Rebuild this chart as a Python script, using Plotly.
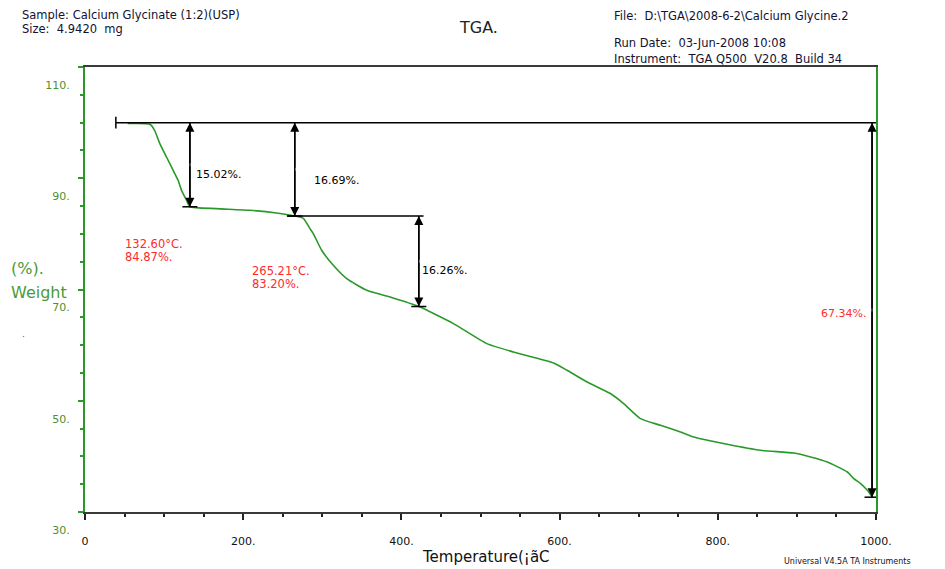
import plotly.graph_objects as go

# ---- data ----
temps = [54, 82, 88, 94.6, 103, 113.5, 117.7, 122, 128.4, 132.6, 166, 208.5, 242, 265.2,
         276, 284.4, 288.6, 299.2, 313.9, 330.9, 356.2, 385.7, 422, 465.8, 508, 541.8,
         592.4, 609.4, 634.7, 664.2, 681, 702.2, 727.5, 752.8, 769.6, 811.9, 854, 896.2,
         917.3, 938.5, 963.8, 972, 980.6, 989, 995.4]
weights = [99.83, 99.7, 98.62, 96.23, 93.82, 90.84, 89.63, 87.83, 86.03, 84.87, 84.54,
           84.24, 83.75, 83.2, 82.8, 80.95, 80.05, 77.05, 74.35, 71.96, 69.86, 68.65,
           66.94, 63.87, 60.27, 58.76, 56.8, 55.47, 53.37, 51.3, 49.49, 46.79, 45.59,
           44.38, 43.48, 42.17, 41.09, 40.6, 39.89, 38.99, 37.19, 36.0, 35.1, 33.9, 32.66]

initial_weight = 100.0
ref_line_start = 39
ref_line_end = 1003
# step arrows: x position, top weight, bottom weight
arrow_x = [132.6, 265.21, 422, 995]
arrow_top = [100.0, 100.0, 83.20, 100.0]
arrow_bottom = [84.87, 83.20, 66.94, 32.66]
loss_labels = ["15.02%.", "16.69%.", "16.26%.", "67.34%."]
onset_labels = [("132.60°C.", "84.87%."), ("265.21°C.", "83.20%.")]

x_ticks = [0, 200, 400, 600, 800, 1000]
x_ticktext = ["0", "200.", "400.", "600.", "800.", "1000."]
y_ticks = [30, 50, 70, 90, 110]
y_ticktext = ["30.", "50.", "70.", "90.", "110."]

GREEN = "#2a992a"
FONT = "DejaVu Sans, Verdana, sans-serif"
RED = "#ff2a2a"

fig = go.Figure()

# TGA curve
fig.add_trace(go.Scatter(x=temps, y=weights, mode="lines",
                         line=dict(color=GREEN, width=1.6, shape="spline", smoothing=0.5),
                         hoverinfo="skip"))

# reference horizontal line at initial weight
fig.add_trace(go.Scatter(x=[ref_line_start, ref_line_end], y=[initial_weight, initial_weight],
                         mode="lines", line=dict(color="black", width=1.5), hoverinfo="skip"))
# left end cap
fig.add_trace(go.Scatter(x=[ref_line_start, ref_line_start], y=[initial_weight - 1.05, initial_weight + 1.05],
                         mode="lines", line=dict(color="black", width=1.5), hoverinfo="skip"))
# horizontal line at second step level
fig.add_trace(go.Scatter(x=[arrow_x[1] - 10, arrow_x[2] + 6], y=[arrow_bottom[1], arrow_bottom[1]],
                         mode="lines", line=dict(color="black", width=1.5), hoverinfo="skip"))

# vertical arrows and bottom caps
for xa, yt, yb in zip(arrow_x, arrow_top, arrow_bottom):
    fig.add_trace(go.Scatter(x=[xa, xa], y=[yt, yb], mode="lines",
                             line=dict(color="black", width=1.5), hoverinfo="skip"))
    fig.add_trace(go.Scatter(x=[xa - 9.5, xa + 9.5], y=[yb, yb], mode="lines",
                             line=dict(color="black", width=1.5), hoverinfo="skip"))
    for tip in (yb, yt):
        fig.add_annotation(x=xa, y=tip, ax=xa, ay=(yt + yb) / 2, xref="x", yref="y",
                           axref="x", ayref="y", text="", showarrow=True, arrowhead=2,
                           arrowsize=1.2, arrowwidth=1.5, arrowcolor="black")

L, R, T, B = 85, 876, 67, 512
W, H = 945, 569


def px(xp, yp):
    return (xp - L) / (R - L), (B - yp) / (B - T)


def add_text(xp, yp, text, size=11, color="black", xanchor="left", family=FONT):
    x, y = px(xp, yp)
    fig.add_annotation(x=x, y=y, xref="paper", yref="paper", text=text, showarrow=False,
                       xanchor=xanchor, yanchor="middle",
                       font=dict(family=family, size=size, color=color))


# loss labels
add_text(194, 174, loss_labels[0], 11)
add_text(312, 180, loss_labels[1], 11)
add_text(420, 270, loss_labels[2], 11)
add_text(868, 313, loss_labels[3], 11, color=RED, xanchor="right")

# onset labels
add_text(123, 244, onset_labels[0][0], 11.5, color=RED)
add_text(123, 257, onset_labels[0][1], 11.5, color=RED)
add_text(250, 271, onset_labels[1][0], 11.5, color=RED)
add_text(250, 284, onset_labels[1][1], 11.5, color=RED)

# header texts
add_text(20, 15, "Sample: Calcium Glycinate (1:2)(USP)", 11.5, color="#111133")
add_text(20, 29, "Size:  4.9420  mg", 11.5, color="#111133")
add_text(478, 27, "TGA.", 16, color="#222222", xanchor="center")
add_text(612, 16, "File:  D:\\TGA\\2008-6-2\\Calcium Glycine.2", 11.5, color="#111133")
add_text(612, 43, "Run Date:  03-Jun-2008 10:08", 11.5, color="#111133")
add_text(612, 59, "Instrument:  TGA Q500  V20.8  Build 34", 11.5, color="#111133")
add_text(782, 561, "Universal V4.5A TA Instruments", 8, color="#111111")

# axis titles
add_text(9, 268, "(%).", 16, color="#4a9a3a")
add_text(9, 292, "Weight", 16, color="#4a9a3a")
add_text(20, 334, ".", 9, color="#555555")
add_text(486, 557, "Temperature(¡ãC", 15, color="#111111", xanchor="center")

fig.update_layout(
    width=W, height=H,
    margin=dict(l=L, r=W - R, t=T, b=H - B),
    paper_bgcolor="white", plot_bgcolor="white",
    showlegend=False,
    font=dict(family=FONT),
    xaxis=dict(range=[0, 1000], tickmode="array", tickvals=x_ticks, ticktext=x_ticktext,
               showgrid=False, zeroline=False, showline=True, linecolor="#3a3a3a",
               linewidth=2, mirror=True, ticks="outside", ticklen=6, tickwidth=1.5,
               tickcolor="#222222", ticklabelstandoff=12,
               tickfont=dict(family=FONT, size=11, color="#111111"),
               minor=dict(tick0=0, dtick=50, ticks="outside", ticklen=3, tickcolor="#222222",
                          showgrid=False)),
    yaxis=dict(range=[30, 110], tickmode="array", tickvals=y_ticks, ticktext=y_ticktext,
               showgrid=False, zeroline=False, showline=True, linecolor=GREEN,
               linewidth=2, mirror=True, ticks="outside", ticklen=5, tickwidth=1.5,
               tickcolor=GREEN, ticklabelshift=18, ticklabelstandoff=6,
               tickfont=dict(family=FONT, size=11, color="#4f8f2f"),
               minor=dict(tick0=30, dtick=5, ticks="outside", ticklen=3, tickcolor=GREEN,
                          showgrid=False)),
)

fig.write_html("out.html")
